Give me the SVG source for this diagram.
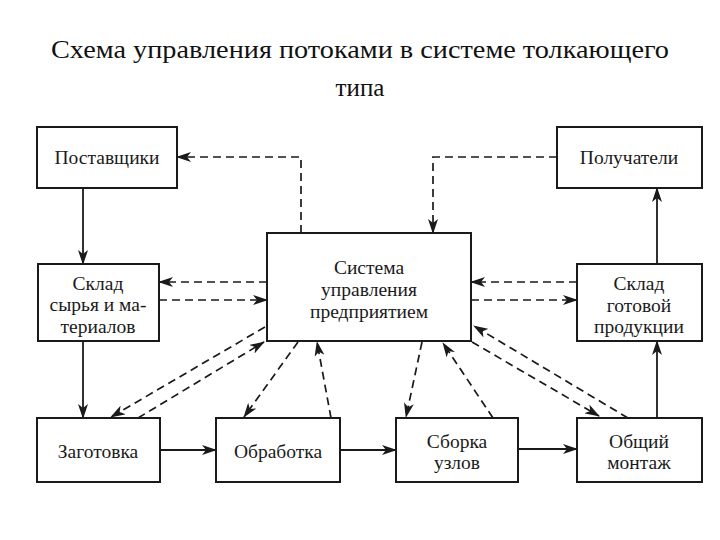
<svg xmlns="http://www.w3.org/2000/svg" width="720" height="540" viewBox="0 0 720 540">
<defs>
<marker id="ah" viewBox="0 0 15 10" markerWidth="15" markerHeight="10" refX="14" refY="5" orient="auto" markerUnits="userSpaceOnUse">
<path d="M0,0 L15,5 L0,10 L4,5 z" fill="#1a1a1a"/>
</marker>
<style>
.box{fill:#fff;stroke:#1a1a1a;stroke-width:2}
.t{font-family:"Liberation Serif","Times New Roman",serif;font-size:19.5px;fill:#1a1a1a;text-anchor:middle}
.title{font-family:"Liberation Serif","Times New Roman",serif;font-size:25px;fill:#111;text-anchor:middle}
.s{fill:none;stroke:#1a1a1a;stroke-width:1.8;marker-end:url(#ah)}
.d{fill:none;stroke:#1a1a1a;stroke-width:1.7;stroke-dasharray:8 5;marker-end:url(#ah)}
</style>
</defs>
<rect width="720" height="540" fill="#fff"/>
<g id="title">
<text class="title" x="360" y="58" textLength="618" lengthAdjust="spacingAndGlyphs">Схема управления потоками в системе толкающего</text>
<text class="title" x="360" y="96">типа</text>
</g>
<g id="connectors">
<line class="s" x1="83" y1="188" x2="83" y2="264"/>
<line class="s" x1="83" y1="341" x2="83" y2="418"/>
<line class="s" x1="160" y1="450" x2="216" y2="450"/>
<line class="s" x1="340" y1="450" x2="396" y2="450"/>
<line class="s" x1="518" y1="449" x2="577" y2="449"/>
<line class="s" x1="657" y1="418" x2="657" y2="341"/>
<line class="s" x1="657" y1="264" x2="657" y2="188"/>
<polyline class="d" points="301,233 301,157 177,157"/>
<polyline class="d" points="557,157 433,157 433,233"/>
<line class="d" x1="267" y1="282" x2="159" y2="282"/>
<line class="d" x1="159" y1="300" x2="267" y2="300"/>
<line class="d" x1="577" y1="282" x2="471" y2="282"/>
<line class="d" x1="471" y1="300" x2="577" y2="300"/>
<line class="d" x1="265" y1="327" x2="111" y2="417"/>
<line class="d" x1="138" y1="418" x2="264" y2="342"/>
<line class="d" x1="298" y1="342" x2="244" y2="417"/>
<line class="d" x1="331" y1="418" x2="317" y2="342"/>
<line class="d" x1="422" y1="342" x2="406" y2="417"/>
<line class="d" x1="493" y1="418" x2="443" y2="343"/>
<line class="d" x1="472" y1="342" x2="599" y2="416"/>
<line class="d" x1="628" y1="418" x2="474" y2="326"/>
</g>
<g id="postavshchiki">
<rect class="box" x="37" y="127" width="140" height="61"/>
<text class="t" x="107" y="164">Поставщики</text>
</g>
<g id="poluchateli">
<rect class="box" x="557" y="127" width="145" height="61"/>
<text class="t" x="629" y="164">Получатели</text>
</g>
<g id="sklad-syrya">
<rect class="box" x="38" y="264" width="121" height="77"/>
<text class="t" x="98" y="290">Склад</text>
<text class="t" x="98" y="311">сырья и ма-</text>
<text class="t" x="98" y="333">териалов</text>
</g>
<g id="sistema">
<rect class="box" x="267" y="233" width="204" height="108"/>
<text class="t" x="369" y="274">Система</text>
<text class="t" x="369" y="296">управления</text>
<text class="t" x="369" y="318">предприятием</text>
</g>
<g id="sklad-gotovoy">
<rect class="box" x="577" y="264" width="125" height="77"/>
<text class="t" x="639" y="290">Склад</text>
<text class="t" x="639" y="312">готовой</text>
<text class="t" x="639" y="333">продукции</text>
</g>
<g id="zagotovka">
<rect class="box" x="37" y="418" width="123" height="64"/>
<text class="t" x="98" y="458">Заготовка</text>
</g>
<g id="obrabotka">
<rect class="box" x="216" y="418" width="124" height="64"/>
<text class="t" x="278" y="458">Обработка</text>
</g>
<g id="sborka">
<rect class="box" x="396" y="418" width="122" height="64"/>
<text class="t" x="457" y="448">Сборка</text>
<text class="t" x="457" y="469">узлов</text>
</g>
<g id="montazh">
<rect class="box" x="577" y="418" width="125" height="64"/>
<text class="t" x="639" y="448">Общий</text>
<text class="t" x="639" y="469">монтаж</text>
</g>
</svg>
